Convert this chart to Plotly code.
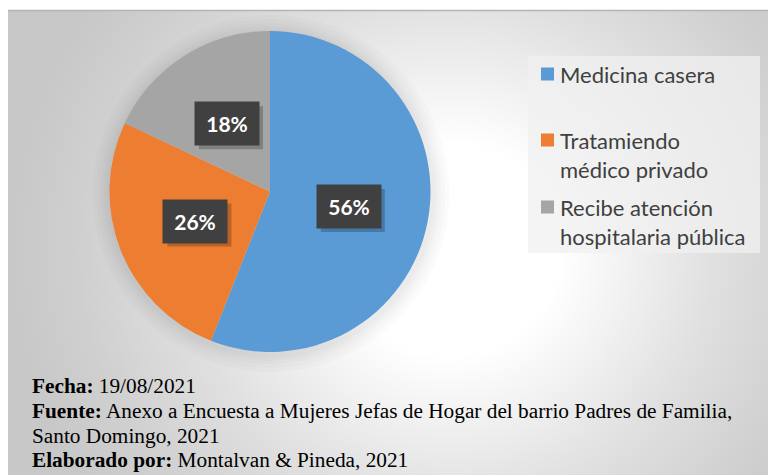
import math
import plotly.graph_objects as go

# data
categories = ["Medicina casera", "Tratamiendo médico privado",
              "Recibe atención hospitalaria pública"]
legend_labels = ["Medicina casera", "Tratamiendo<br>médico privado",
                 "Recibe atención<br>hospitalaria pública"]
values = [56, 26, 18]
colors = ["#5B9BD5", "#ED7D31", "#A5A5A5"]

footer_lines = [
    "<b>Fecha:</b> 19/08/2021",
    "<b>Fuente:</b> Anexo a Encuesta a Mujeres Jefas de Hogar del barrio Padres de Familia,",
    "Santo Domingo, 2021",
    "<b>Elaborado por:</b> Montalvan &amp; Pineda, 2021",
]

W, H = 776, 475
OFF = 8  # the page body margin; axis units below are page pixels

# pie placement in page pixels
px0, px1, py0, py1 = 109, 431, 31, 352
cx, cy = (px0 + px1) / 2, (py0 + py1) / 2
r = min(px1 - px0, py1 - py0) / 2

fig = go.Figure()

# radial grey background
fig.add_trace(go.Scatter(
    x=[10, 890, 890, 10, 10],
    y=[-170, -170, 670, 670, -170],
    mode="lines", fill="toself", line=dict(width=0),
    fillgradient=dict(type="radial",
                      colorscale=[[0, "#ffffff"], [0.25, "#ffffff"], [0.6, "#e0e0e0"],
                                  [0.85, "#cfcfcf"], [1, "#c8c8c8"]]),
    hoverinfo="skip", showlegend=False,
))

# soft shadow around the pie
for pad in [18, 14, 10, 7, 4]:
    fig.add_trace(go.Scatter(
        x=[cx + 1], y=[cy + 2], mode="markers",
        marker=dict(size=2 * (r + pad), color="rgba(0,0,0,0.016)", line=dict(width=0)),
        hoverinfo="skip", showlegend=False,
    ))

fig.add_trace(go.Pie(
    labels=categories, values=values,
    marker=dict(colors=colors, line=dict(width=0)),
    sort=False, direction="clockwise", rotation=0,
    textinfo="none", hoverinfo="label+percent", showlegend=False,
    domain=dict(x=[(px0 - OFF) / W, (px1 - OFF) / W],
                y=[1 - (py1 - OFF) / H, 1 - (py0 - OFF) / H]),
))

annotations = []
shapes = []

# base grey panel, white top strip and border
shapes.append(dict(type="rect", xref="x", yref="y", x0=8, y0=8, x1=W + 20, y1=H + 20,
                   fillcolor="#c8c8c8", line=dict(width=0), layer="below"))
shapes.append(dict(type="rect", xref="x", yref="y", x0=0, y0=0, x1=W + 20, y1=10,
                   fillcolor="white", line=dict(width=0)))
shapes.append(dict(type="line", xref="x", yref="y", x0=8, y0=10.5, x1=W + 20, y1=10.5,
                   line=dict(color="#b4b4b4", width=1.5)))

# percentage labels on dark boxes (with a drop shadow)
total = sum(values)
start = 0
for v in values:
    mid = (start + v / 2) / total * 2 * math.pi
    lx = cx + 0.5 * r * math.sin(mid)
    ly = cy - 0.5 * r * math.cos(mid)
    start += v
    shapes.append(dict(type="rect", xref="x", yref="y",
                       x0=lx - 32 + 4, x1=lx + 32 + 4, y0=ly - 21.5 + 4, y1=ly + 21.5 + 4,
                       fillcolor="rgba(0,0,0,0.22)", line=dict(width=0)))
    annotations.append(dict(x=lx, y=ly, xref="x", yref="y",
                            text=f"<b>{round(v / total * 100)}%</b>",
                            showarrow=False, width=62, height=41, bgcolor="#404040",
                            font=dict(family="Lato", size=21, color="white")))

# legend drawn by hand
shapes.append(dict(type="rect", xref="x", yref="y", x0=528, y0=56, x1=760, y1=253,
                   fillcolor="rgba(240,240,240,0.75)", line=dict(width=0)))
item_y = [74, 140, 207]
for lab, col, yy in zip(legend_labels, colors, item_y):
    shapes.append(dict(type="rect", xref="x", yref="y", x0=541, x1=554,
                       y0=yy - 6.5, y1=yy + 6.5, fillcolor=col, line=dict(width=0)))
    annotations.append(dict(x=558, y=yy - 15, xref="x", yref="y", text=lab,
                            showarrow=False, xanchor="left", yanchor="top", align="left",
                            font=dict(family="Lato", size=22, color="#404040")))

# footer
for i, line in enumerate(footer_lines):
    annotations.append(dict(x=30, y=386 + i * 24.8, xref="x", yref="y", text=line,
                            showarrow=False, xanchor="left", yanchor="middle",
                            font=dict(family="Liberation Serif", size=21.3, color="black")))

fig.update_layout(
    width=W, height=H,
    margin=dict(l=0, r=0, t=0, b=0),
    paper_bgcolor="white", plot_bgcolor="rgba(0,0,0,0)",
    xaxis=dict(range=[OFF, W + OFF], visible=False, fixedrange=True),
    yaxis=dict(range=[H + OFF, OFF], visible=False, fixedrange=True),
    shapes=shapes, annotations=annotations,
    showlegend=False,
)

fig.write_html("out.html")
